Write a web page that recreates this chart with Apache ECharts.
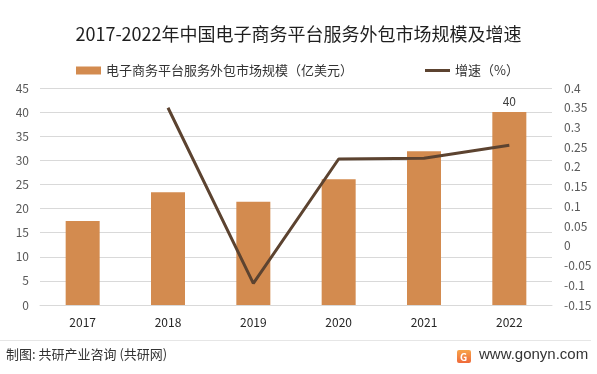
<!DOCTYPE html>
<html>
<head>
<meta charset="utf-8">
<script src="https://cdn.jsdelivr.net/npm/echarts@6/dist/echarts.min.js"></script>
<style>
html,body{margin:0;padding:0;background:#fff;}
#c{width:597px;height:374px;}
</style>
</head>
<body>
<div id="c"></div>
<script>
var titleText = '2017-2022年中国电子商务平台服务外包市场规模及增速';
var categories = ['2017', '2018', '2019', '2020', '2021', '2022'];
var marketSize = [17.4, 23.4, 21.4, 26.1, 31.9, 40];
var growthRate = [null, 0.35, -0.095, 0.22, 0.222, 0.255];
var barName = '电子商务平台服务外包市场规模（亿美元）';
var lineName = '增速（%）';
var sourceText = '制图: 共研产业咨询 (共研网)';
var siteText = 'www.gonyn.com';

var FONT = '"Noto Sans CJK SC", "Noto Sans", sans-serif';
var chart = echarts.init(document.getElementById('c'));
var lastIdx = marketSize.length - 1;

chart.setOption({
  animation: false,
  backgroundColor: '#fff',
  textStyle: { fontFamily: FONT },
  title: {
    text: titleText,
    left: 'center',
    top: 20,
    textStyle: { fontSize: 18, fontWeight: 'normal', color: '#1f1f1f', fontFamily: FONT }
  },
  legend: {
    left: 71,
    top: 59,
    itemWidth: 25,
    itemHeight: 8,
    itemGap: 72,
    symbolKeepAspect: true,
    textStyle: { fontSize: 13, color: '#333', fontFamily: FONT },
    data: [
      { name: barName, icon: 'rect' },
      { name: lineName, icon: 'path://M0,0H25V3H0Z' }
    ]
  },
  grid: { left: 40, right: 45, top: 88, bottom: 69 },
  xAxis: {
    type: 'category',
    data: categories,
    axisLine: { show: true, lineStyle: { color: '#d9d9d9' } },
    axisTick: { show: false },
    axisLabel: { color: '#262626', fontSize: 12, margin: 11, fontFamily: FONT }
  },
  yAxis: [
    {
      type: 'value',
      min: 0, max: 45, interval: 5,
      axisLine: { show: false },
      axisTick: { show: false },
      axisLabel: { color: '#595959', fontSize: 12, margin: 11, fontFamily: FONT },
      splitLine: { lineStyle: { color: '#d9d9d9', width: 1 } }
    },
    {
      type: 'value',
      min: -0.15, max: 0.4, interval: 0.05,
      axisLine: { show: false },
      axisTick: { show: false },
      splitLine: { show: false },
      axisLabel: {
        color: '#595959', fontSize: 12, margin: 12, fontFamily: FONT,
        formatter: function (v) { return String(Math.round(v * 100) / 100); }
      }
    }
  ],
  series: [
    {
      name: barName,
      type: 'bar',
      data: marketSize,
      barWidth: 34,
      itemStyle: { color: '#d38b4f' },
      label: {
        show: true,
        position: 'top',
        color: '#404040',
        fontSize: 12,
        distance: 5,
        fontFamily: FONT,
        formatter: function (p) { return p.dataIndex === lastIdx ? String(p.value) : ''; }
      }
    },
    {
      name: lineName,
      type: 'line',
      yAxisIndex: 1,
      data: growthRate,
      symbol: 'none',
      connectNulls: false,
      lineStyle: { color: '#5c4330', width: 3 },
      itemStyle: { color: '#5c4330' }
    }
  ],
  graphic: [
    {
      type: 'rect',
      shape: { x: 0, y: 340, width: 591, height: 1 },
      style: { fill: '#e6e6e6' }
    },
    {
      type: 'text',
      left: 6,
      top: 348,
      style: { text: sourceText, fontSize: 13, fill: '#333', fontFamily: FONT }
    },
    {
      type: 'group',
      left: 457,
      top: 350,
      children: [
        {
          type: 'rect',
          shape: { x: 0, y: 0, width: 14, height: 13, r: 2 },
          style: {
            fill: new echarts.graphic.LinearGradient(0, 0, 0, 1, [
              { offset: 0, color: '#f7a44a' },
              { offset: 1, color: '#ef6a3a' }
            ])
          }
        },
        {
          type: 'text',
          x: 3, y: 2,
          style: { text: 'G', fontSize: 10, fontWeight: 'bold', fill: '#fff', fontFamily: FONT }
        }
      ]
    },
    {
      type: 'text',
      left: 479,
      top: 347,
      style: { text: siteText, fontSize: 15, fill: '#333', fontFamily: '"Liberation Sans", Arial, sans-serif' }
    }
  ]
});
</script>
</body>
</html>
